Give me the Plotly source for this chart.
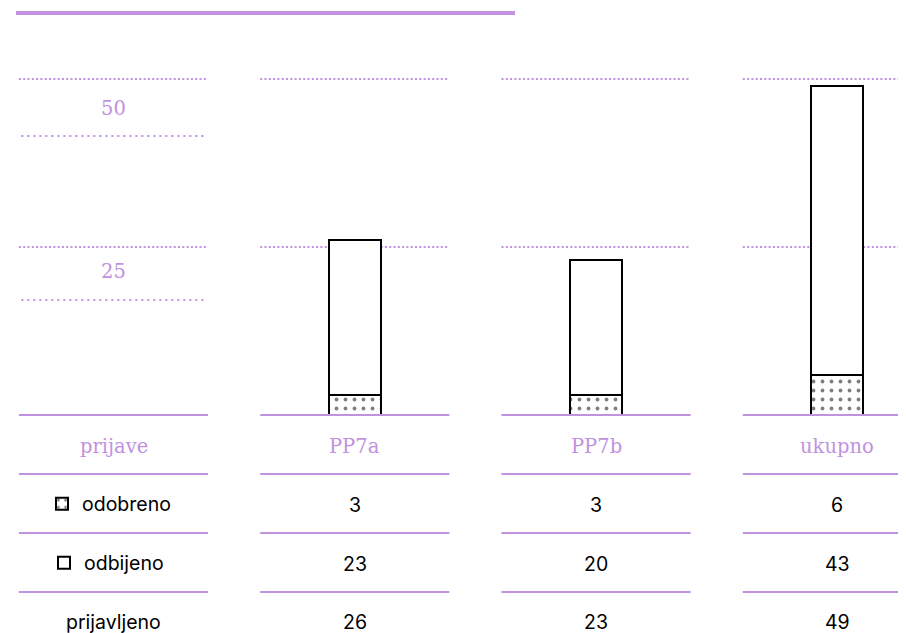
import plotly.graph_objects as go

# podaci
columns = ["prijave", "PP7a", "PP7b", "ukupno"]
groups = ["PP7a", "PP7b", "ukupno"]
odobreno = [3, 3, 6]
odbijeno = [23, 20, 43]
prijavljeno = [26, 23, 49]
y_ticks = [50, 25]
row_labels = ["odobreno", "odbijeno", "prijavljeno"]

OFF = 8  # margina body elementa stranice
W, H = 906 - OFF, 633 - OFF
PURPLE = "#c092e0"
SERIF = "DejaVu Serif"
SANS = "Inter"
SCALE = 6.72      # px po jedinici
BASE = 415 - OFF  # nulta linija (px od vrha)
COL0 = 113.5 - OFF
STEP = 241.3


def py(px):
    """pixel od vrha (u referenci) -> paper y"""
    return 1 - (px - OFF) / H


def pxx(px):
    return (px - OFF) / W


fig = go.Figure()

# stupci
fig.add_trace(go.Bar(
    x=groups, y=odobreno, name="odobreno", width=0.215,
    marker=dict(color="white", line=dict(color="black", width=2),
                pattern=dict(shape=".", fgcolor="black", bgcolor="white",
                             size=9, solidity=0.14)),
    legend="legend",
))
fig.add_trace(go.Bar(
    x=groups, y=odbijeno, name="odbijeno", width=0.215,
    marker=dict(color="white", line=dict(color="black", width=2)),
    legend="legend2",
))

shapes = []
half = 0.392

# gornja linija
shapes.append(dict(type="line", xref="paper", yref="paper",
                   x0=pxx(16), x1=pxx(515), y0=py(13), y1=py(13),
                   line=dict(color=PURPLE, width=4)))

# točkaste linije mreže
for i in range(len(columns)):
    for t in y_ticks:
        shapes.append(dict(type="line", xref="x", yref="y", layer="below",
                           x0=i - half, x1=i + half, y0=t, y1=t,
                           line=dict(color=PURPLE, width=2, dash="2px,2.3px")))
for px in [136, 300]:
    shapes.append(dict(type="line", xref="x", yref="paper", layer="below",
                       x0=-half + 0.01, x1=half - 0.01, y0=py(px), y1=py(px),
                       line=dict(color=PURPLE, width=2, dash="2px,4px")))

# linije tablice
for i in range(len(columns)):
    for px in [415, 474, 533, 592]:
        shapes.append(dict(type="line", xref="x", yref="paper", layer="above",
                           x0=i - half, x1=i + half, y0=py(px), y1=py(px),
                           line=dict(color=PURPLE, width=2)))

annotations = []
serif_font = dict(family=SERIF, size=19.5, color=PURPLE)
sans_font = dict(family=SANS, size=19.5, color="black")
# oznake osi
for t, px in zip(y_ticks, [108, 271]):
    annotations.append(dict(x=0, y=py(px), xref="x", yref="paper", text=str(t),
                            xanchor="center", yanchor="middle",
                            showarrow=False, font=serif_font))
# zaglavlje
for i, c in enumerate(columns):
    annotations.append(dict(x=i, y=py(446), xref="x", yref="paper", text=c,
                            xanchor="center", yanchor="middle",
                            showarrow=False, font=serif_font))
# redovi
annotations.append(dict(x=0, y=py(622), xref="x", yref="paper", text=row_labels[2],
                        xanchor="center", yanchor="middle",
                        showarrow=False, font=sans_font))
for row, px in zip([odobreno, odbijeno, prijavljeno], [505, 564, 622]):
    for i, v in enumerate(row):
        annotations.append(dict(x=i + 1, y=py(px), xref="x", yref="paper", text=str(v),
                                xanchor="center", yanchor="middle",
                                showarrow=False, font=sans_font))

leg = dict(xanchor="left", yanchor="middle", bgcolor="rgba(0,0,0,0)",
           font=sans_font, itemwidth=30)

fig.update_layout(
    width=W, height=H,
    margin=dict(l=0, r=0, t=0, b=0),
    paper_bgcolor="white", plot_bgcolor="white",
    barmode="stack",
    showlegend=True,
    legend=dict(leg, x=pxx(42), y=py(504)),
    legend2=dict(leg, x=pxx(44), y=py(563)),
    xaxis=dict(type="category", categoryorder="array", categoryarray=columns,
               range=[-COL0 / STEP, (W - COL0) / STEP], visible=False, fixedrange=True),
    yaxis=dict(range=[-(H - BASE) / SCALE, BASE / SCALE], visible=False, fixedrange=True),
    shapes=shapes,
    annotations=annotations,
)

fig.write_html("out.html")
